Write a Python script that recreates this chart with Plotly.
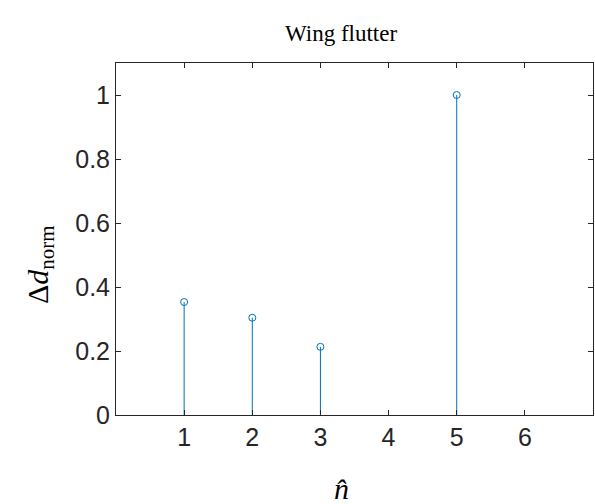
import plotly.graph_objects as go

n_vals = [1, 2, 3, 5]
d_norm = [0.353, 0.304, 0.213, 1.0]
x_ticks = [1, 2, 3, 4, 5, 6]
y_ticks = [0, 0.2, 0.4, 0.6, 0.8, 1]
y_tick_text = ["0", "0.2", "0.4", "0.6", "0.8", "1"]

blue = "#0072BD"
axc = "#262626"

stem_x, stem_y = [], []
for xv, yv in zip(n_vals, d_norm):
    stem_x += [xv, xv, None]
    stem_y += [0, yv, None]

fig = go.Figure()
fig.add_trace(go.Scatter(x=stem_x, y=stem_y, mode="lines",
                         line=dict(color=blue, width=1), showlegend=False, hoverinfo="skip"))
fig.add_trace(go.Scatter(x=n_vals, y=d_norm, mode="markers",
                         marker=dict(symbol="circle-open", size=7, color=blue, line=dict(width=1, color=blue)),
                         showlegend=False))

L, R, T, B = 116, 2, 63, 89
W, H = 595, 504
pw, ph = W - L - R, H - T - B

def px(x):
    return (x - L) / pw

def py(y):
    return (H - B - y) / ph

serif = "Liberation Serif, Times New Roman, serif"
tickfont = dict(family="Liberation Sans, Arial, Helvetica, sans-serif", size=25, color=axc)

fig.update_layout(
    width=W, height=H,
    margin=dict(l=L, r=R, t=T, b=B),
    paper_bgcolor="white", plot_bgcolor="white",
    font=dict(family="Liberation Sans, Arial, sans-serif", size=25, color=axc),
    xaxis=dict(range=[0, 7], tickvals=x_ticks, ticks="inside", ticklen=5, tickcolor=axc,
               showline=True, linecolor=axc, linewidth=1, mirror="ticks",
               showgrid=False, zeroline=False, tickfont=tickfont),
    yaxis=dict(range=[0, 1.1], tickvals=y_ticks, ticktext=y_tick_text, ticks="inside", ticklen=5,
               tickcolor=axc, showline=True, linecolor=axc, linewidth=1, mirror="ticks",
               showgrid=False, zeroline=False, tickfont=tickfont),
    annotations=[
        dict(text="Wing flutter", xref="paper", yref="paper", x=px(341), y=py(33),
             showarrow=False, xanchor="center", yanchor="middle",
             font=dict(family=serif, size=23, color="black")),
        dict(text="Δ<i>d</i><sub>norm</sub>", xref="paper", yref="paper", x=px(40), y=py(265),
             showarrow=False, xanchor="center", yanchor="middle", textangle=-90,
             font=dict(family=serif, size=30, color="black")),
        dict(text="<i>n\u0302</i>", xref="paper", yref="paper", x=px(341), y=py(488),
             showarrow=False, xanchor="center", yanchor="middle",
             font=dict(family=serif, size=30, color="black")),
    ],
)

fig.write_html("out.html")
